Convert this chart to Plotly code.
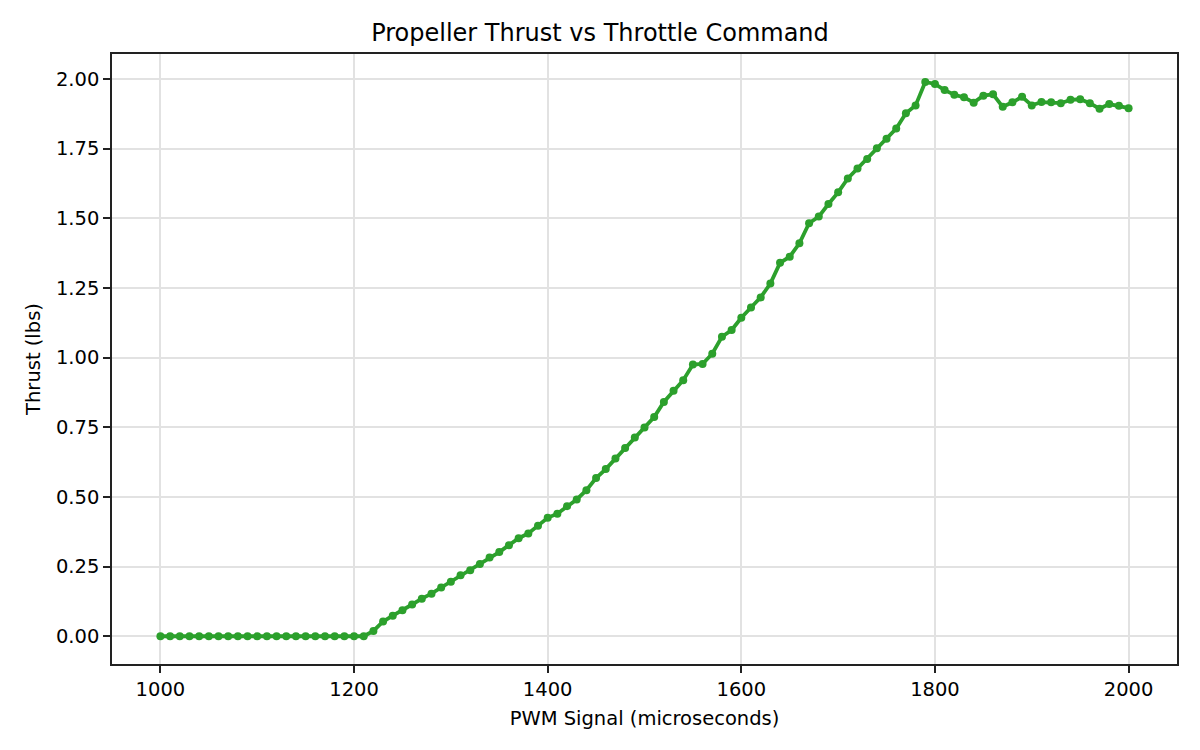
import plotly.graph_objects as go

# PWM command (microseconds), 10 us steps
pwm = list(range(1000, 2001, 10))

thrust = [
    0.0, 0.0, 0.0, 0.0, 0.0, 0.0, 0.0, 0.0, 0.0, 0.0,
    0.0, 0.0, 0.0, 0.0, 0.0, 0.0, 0.0, 0.0, 0.0, 0.0,
    0.0, 0.0, 0.019, 0.053, 0.074, 0.093, 0.114, 0.135, 0.153, 0.175,
    0.196, 0.219, 0.237, 0.259, 0.283, 0.302, 0.327, 0.352, 0.369, 0.397,
    0.425, 0.44, 0.467, 0.491, 0.524, 0.568, 0.60, 0.638, 0.676, 0.713,
    0.749, 0.787, 0.841, 0.881, 0.919, 0.975, 0.977, 1.014, 1.075, 1.099,
    1.143, 1.18, 1.216, 1.266, 1.34, 1.362, 1.41, 1.482, 1.506, 1.551,
    1.593, 1.643, 1.679, 1.713, 1.751, 1.785, 1.822, 1.877, 1.905, 1.989,
    1.982, 1.96, 1.943, 1.934, 1.915, 1.94, 1.945, 1.90, 1.916, 1.936,
    1.905, 1.917, 1.916, 1.913, 1.925, 1.927, 1.913, 1.893, 1.91, 1.904,
    1.895,
]

x_ticks = [1000, 1200, 1400, 1600, 1800, 2000]
y_ticks = [0.0, 0.25, 0.5, 0.75, 1.0, 1.25, 1.5, 1.75, 2.0]

fig = go.Figure()
fig.add_trace(go.Scatter(
    x=pwm,
    y=thrust,
    mode='lines+markers',
    line=dict(color='#2ca02c', width=3.8),
    marker=dict(color='#2ca02c', size=8),
    showlegend=False,
))

axis_style = dict(
    showline=True,
    linecolor='#222222',
    linewidth=1.5,
    mirror=True,
    ticks='outside',
    ticklen=7,
    tickwidth=1.5,
    tickcolor='#222222',
    showgrid=True,
    gridcolor='#e2e2e2',
    gridwidth=1.5,
    zeroline=False,
    tickfont=dict(size=19.5, color='black'),
)

# page has an 8px body margin, so the figure is a bit smaller than the window
fig.update_layout(
    width=1184,
    height=734,
    font=dict(family='DejaVu Sans', color='black'),
    plot_bgcolor='white',
    paper_bgcolor='white',
    margin=dict(l=104, r=15, t=46, b=78),
    title=dict(
        text='Propeller Thrust vs Throttle Command',
        x=0.5, xanchor='center',
        y=0.967, yanchor='middle',
        font=dict(size=24),
    ),
    xaxis=dict(
        axis_style,
        range=[950, 2050],
        tickvals=x_ticks,
        title=dict(text='PWM Signal (microseconds)', font=dict(size=19.5), standoff=11),
    ),
    yaxis=dict(
        axis_style,
        range=[-0.0995, 2.0895],
        tickvals=y_ticks,
        tickformat='.2f',
        title=dict(text='Thrust (lbs)', font=dict(size=19.5), standoff=10),
    ),
)

fig.write_html("out.html")
